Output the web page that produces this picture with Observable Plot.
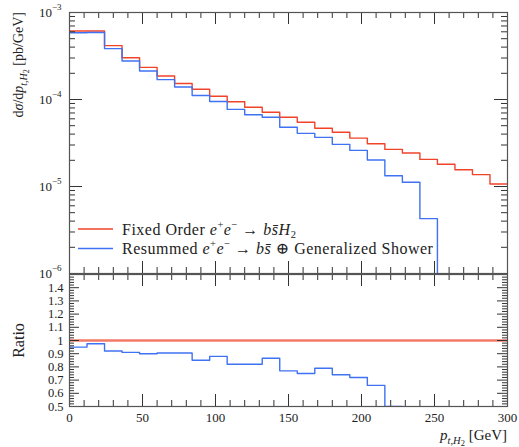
<!DOCTYPE html>
<html><head><meta charset="utf-8">
<script src="https://cdn.jsdelivr.net/npm/d3@7"></script>
<script src="https://cdn.jsdelivr.net/npm/@observablehq/plot@0.6"></script>
<style>
body{margin:0;background:#fff;}
#chart{width:519px;height:447px;position:relative;}
#chart svg{display:block;overflow:visible;}
</style></head><body><div id="chart"></div>
<script>
// ---- data ----
const binEdges = [0,12,24,36,48,60,72,84,96,108,120,132,144,156,168,180,192,204,216,228,240,252,264,276,288,300];
const fixedOrder = [6.13e-4,6.13e-4,4.16e-4,3.02e-4,2.34e-4,1.86e-4,1.53e-4,1.31e-4,1.09e-4,9.44e-5,8.13e-5,7.13e-5,6.24e-5,5.47e-5,4.67e-5,4.2e-5,3.6e-5,3.1e-5,2.67e-5,2.43e-5,2.05e-5,1.8e-5,1.56e-5,1.37e-5,1.07e-5];
const resummed = [5.86e-4,5.9e-4,3.84e-4,2.77e-4,2.13e-4,1.69e-4,1.39e-4,1.11e-4,9.5e-5,7.7e-5,6.68e-5,6.24e-5,4.79e-5,4.08e-5,3.67e-5,3.05e-5,2.6e-5,2.02e-5,1.33e-5,1.12e-5,4.27e-6,0,0,0,0];
const ratioFixed = [1,1,1,1,1,1,1,1,1,1,1,1,1,1,1,1,1,1,1,1,1,1,1,1,1];
const ratioResummed = [0.95,0.975,0.92,0.91,0.90,0.905,0.905,0.85,0.88,0.82,0.82,0.865,0.77,0.75,0.79,0.74,0.72,0.66,0.50,null,null,null,null,null,null];
const xTickLabels = [0,50,100,150,200,250,300];
const xMinorTicks = [10,20,30,40,60,70,80,90,110,120,130,140,160,170,180,190,210,220,230,240,260,270,280,290];
const yTopTicks = [1e-6,1e-5,1e-4,1e-3];
const yTopMinor = [2e-6,3e-6,4e-6,5e-6,6e-6,7e-6,8e-6,9e-6,2e-5,3e-5,4e-5,5e-5,6e-5,7e-5,8e-5,9e-5,2e-4,3e-4,4e-4,5e-4,6e-4,7e-4,8e-4,9e-4];
const ratioTickLabels = [0.5,0.6,0.7,0.8,0.9,1.0,1.1,1.2,1.3,1.4];
const ratioMajor = [0.5,0.6,0.7,0.8,0.9,1.0,1.1,1.2,1.3,1.4,1.5];
const ratioMinor = [0.52,0.54,0.56,0.58,0.62,0.64,0.66,0.68,0.72,0.74,0.76,0.78,0.82,0.84,0.86,0.88,0.92,0.94,0.96,0.98,1.02,1.04,1.06,1.08,1.12,1.14,1.16,1.18,1.22,1.24,1.26,1.28,1.32,1.34,1.36,1.38,1.42,1.44,1.46,1.48];

const FONT = "'Liberation Serif','DejaVu Serif',serif";
const RED = "#f0432a", BLUE = "#3f72f2", RATIO_RED = "#f47a68";
const FRAME = "#555", TICK = "#333";
const W = 519, ML = 69, MR = 12;
const PW = W - ML - MR;
const floorVal = 1e-9; // empty bins fall below the log frame

function steps(vals, zeroTo) {
  const pts = []; let last = -1;
  vals.forEach((v, i) => {
    if (v != null) { pts.push({x: binEdges[i], y: (v === 0 && zeroTo != null) ? zeroTo : v}); last = i; }
  });
  pts.push({x: binEdges[last + 1], y: pts[pts.length - 1].y});
  return pts;
}

function tickMarks(H, xMaj, xMin, yMaj, yMin, yMajLen, yMinLen) {
  const s = {stroke: TICK, strokeWidth: 1};
  return [
    Plot.tickX(xMaj, {x: d => d, insetTop: H - 12, ...s}),
    Plot.tickX(xMaj, {x: d => d, insetBottom: H - 12, ...s}),
    Plot.tickX(xMin, {x: d => d, insetTop: H - 6, ...s}),
    Plot.tickX(xMin, {x: d => d, insetBottom: H - 6, ...s}),
    Plot.tickY(yMaj, {y: d => d, insetRight: PW - yMajLen, ...s}),
    Plot.tickY(yMaj, {y: d => d, insetLeft: PW - yMajLen, ...s}),
    Plot.tickY(yMin, {y: d => d, insetRight: PW - yMinLen, ...s}),
    Plot.tickY(yMin, {y: d => d, insetLeft: PW - yMinLen, ...s})
  ];
}

// ---- top panel ----
const TOP_H = 274, TOP_MT = 12, TOP_MB = 1;
const topInner = TOP_H - TOP_MT - TOP_MB;
const mainPlot = Plot.plot({
  width: W, height: TOP_H,
  marginTop: TOP_MT, marginBottom: TOP_MB, marginLeft: ML, marginRight: MR,
  style: {fontFamily: FONT, fontSize: "13px", background: "transparent", overflow: "visible", color: "#222"},
  x: {domain: [0, 300], axis: null},
  y: {type: "log", domain: [1e-6, 1e-3], axis: null},
  marks: [
    Plot.line(steps(fixedOrder), {x: "x", y: "y", curve: "step-after", stroke: RED, strokeWidth: 1.4, clip: true}),
    Plot.line(steps(resummed, floorVal), {x: "x", y: "y", curve: "step-after", stroke: BLUE, strokeWidth: 1.4, clip: true}),
    ...tickMarks(topInner, xTickLabels, xMinorTicks, yTopTicks, yTopMinor, 13, 6),
    Plot.axisY({ticks: yTopTicks, tickSize: 0, tickPadding: 8, tickFormat: d => "10^" + Math.round(Math.log10(d)), fontSize: 13, label: null}),
    Plot.frame({stroke: FRAME, strokeWidth: 1.2})
  ]
});

// ---- ratio panel ----
const BOT_H = 173, BOT_MT = 0, BOT_MB = 41;
const botInner = BOT_H - BOT_MT - BOT_MB;
const ratioPlot = Plot.plot({
  width: W, height: BOT_H,
  marginTop: BOT_MT, marginBottom: BOT_MB, marginLeft: ML, marginRight: MR,
  style: {fontFamily: FONT, fontSize: "13px", background: "transparent", overflow: "visible", color: "#222"},
  x: {domain: [0, 300], axis: null},
  y: {domain: [0.5, 1.5], axis: null},
  marks: [
    Plot.line(steps(ratioFixed), {x: "x", y: "y", curve: "step-after", stroke: RATIO_RED, strokeWidth: 2.6, clip: true}),
    Plot.line(steps(ratioResummed), {x: "x", y: "y", curve: "step-after", stroke: BLUE, strokeWidth: 1.4, clip: true}),
    ...tickMarks(botInner, xTickLabels, xMinorTicks, ratioMajor, ratioMinor, 10, 5),
    Plot.axisY({ticks: ratioTickLabels, tickSize: 0, tickPadding: 6, tickFormat: d => (Math.abs(d - 1) < 1e-9 ? "1" : d.toFixed(1)), fontSize: 12.5, label: null}),
    Plot.axisX({ticks: xTickLabels, tickSize: 0, tickPadding: 6, fontSize: 13, label: null}),
    Plot.frame({stroke: FRAME, strokeWidth: 1.2})
  ]
});

const chart = document.getElementById("chart");
chart.appendChild(mainPlot);
chart.appendChild(ratioPlot);

// superscript powers of ten
d3.select(mainPlot).selectAll('g[aria-label="y-axis tick label"] text').each(function () {
  const t = this.textContent; const [b, e] = t.split("^");
  const el = d3.select(this); el.text(null);
  el.append("tspan").text(b);
  el.append("tspan").attr("dy", -7).attr("font-size", 9).text(e.replace("-", "\u2212"));
});

// y label (top)
const tsvg = d3.select(mainPlot);
const yl = tsvg.append("text").attr("transform", "translate(23,12) rotate(-90)")
  .attr("text-anchor", "end").attr("font-family", FONT).attr("font-size", 14).attr("fill", "#222");
yl.append("tspan").text("d");
yl.append("tspan").attr("font-style", "italic").text("\u03c3");
yl.append("tspan").text("/d");
yl.append("tspan").attr("font-style", "italic").text("p");
yl.append("tspan").attr("font-style", "italic").attr("font-size", 10).attr("dy", 4).text("t,H");
yl.append("tspan").attr("font-size", 8).attr("dy", 2).text("2");
yl.append("tspan").attr("dy", -6).text(" [pb/GeV]");

// legend
const leg = tsvg.append("g").attr("font-family", FONT).attr("font-size", 16).attr("fill", "#222").attr("text-anchor", "start");
function legendRow(y, color, build) {
  leg.append("line").attr("x1", 78).attr("x2", 113).attr("y1", y).attr("y2", y).attr("stroke", color).attr("stroke-width", 1.4);
  const t = leg.append("text").attr("x", 122).attr("y", y + 5.5).attr("text-anchor", "start").attr("letter-spacing", 0.5);
  build(t);
}
function ee(t) {
  t.append("tspan").attr("font-style", "italic").text("e");
  t.append("tspan").attr("font-size", 10.5).attr("dy", -7).text("+");
  t.append("tspan").attr("font-style", "italic").attr("dy", 7).text("e");
  t.append("tspan").attr("font-size", 10.5).attr("dy", -7).text("\u2212");
  t.append("tspan").attr("dy", 7).text(" \u2192 ");
  t.append("tspan").attr("font-style", "italic").text("b");
  t.append("tspan").attr("font-style", "italic").text("s\u0304");
}
legendRow(229, RED, t => {
  t.append("tspan").text("Fixed Order ");
  ee(t);
  t.append("tspan").attr("font-style", "italic").text("H");
  t.append("tspan").attr("font-size", 10.5).attr("dy", 3.5).text("2");
});
legendRow(248.5, BLUE, t => {
  t.append("tspan").text("Resummed ");
  ee(t);
  t.append("tspan").text(" \u2295 Generalized Shower");
});

// ratio panel labels
const bsvg = d3.select(ratioPlot);
bsvg.append("text").attr("transform", "translate(24,66.5) rotate(-90)")
  .attr("text-anchor", "middle").attr("font-family", FONT).attr("font-size", 16).attr("fill", "#222").text("Ratio");
const xl = bsvg.append("text").attr("x", 507).attr("y", 166).attr("text-anchor", "end")
  .attr("font-family", FONT).attr("font-size", 15).attr("fill", "#222");
xl.append("tspan").attr("font-style", "italic").text("p");
xl.append("tspan").attr("font-style", "italic").attr("font-size", 10.5).attr("dy", 4).text("t,H");
xl.append("tspan").attr("font-size", 8.5).attr("dy", 2).text("2");
xl.append("tspan").attr("dy", -6).text(" [GeV]");
</script></body></html>
